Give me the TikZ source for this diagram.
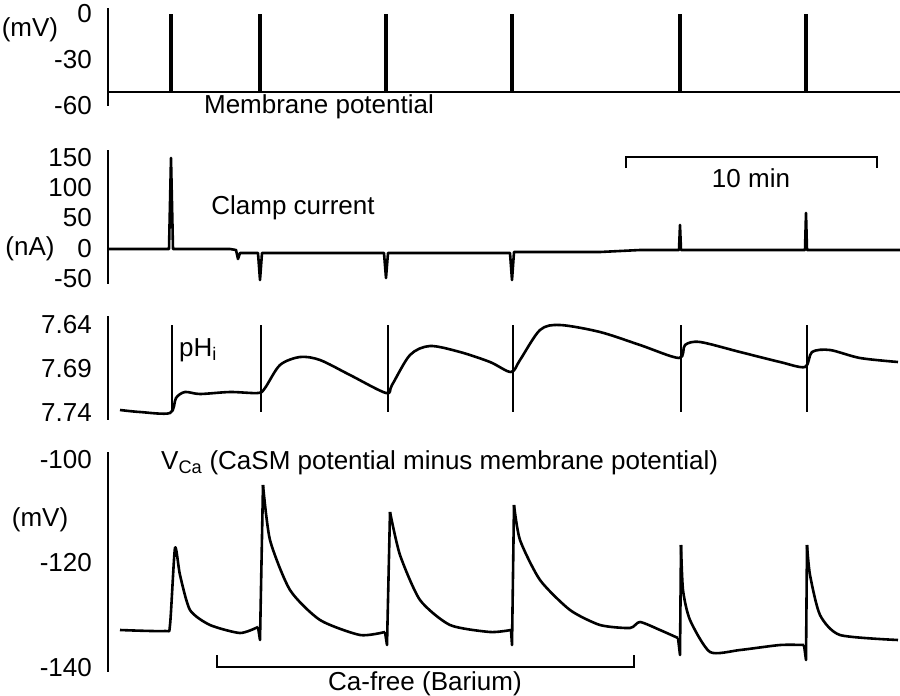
\documentclass[tikz,border=0pt]{standalone}
\usepackage{fontspec}
\setmainfont{Liberation Sans}
\tikzset{
    axis/.style={line width=2.4pt},
    trace/.style={line width=2.6pt,line join=round},
    lbl/.style={font=\fontsize{26}{30}\selectfont,inner sep=1pt},
    tick/.style={lbl,anchor=east}
}
\begin{document}
\begin{tikzpicture}[x=1pt,y=-1pt]
\useasboundingbox (0,0) rectangle (900,696);
% membrane potential
\draw[axis] (108,8) -- (108,106);
\node[tick] (m0) at (93,14) {0};
\node[tick] (m30) at (93,60) {-30};
\node[tick] (m60) at (93,106) {-60};
\node[lbl] (mv1) at (30,30) {(mV)};
\draw[trace] (108,92) -- (900,92);
\foreach \t in {171,260,386,512,680,806}
  \draw[line width=4pt] (\t,92) -- (\t,14);
\node[lbl] (mp) at (319,107) {Membrane potential};
% clamp current
\draw[axis] (108,150) -- (108,284);
\node[tick] (c150) at (93,158) {150};
\node[tick] (c100) at (93,188) {100};
\node[tick] (c50) at (93,218) {50};
\node[tick] (c0) at (93,249) {0};
\node[tick] (cm50) at (93,279) {-50};
\node[lbl] (na) at (30,249) {(nA)};
\node[lbl] (cc) at (293,208) {Clamp current};
\draw[trace] (108,249) -- (169,249) -- (171,158) -- (173,249) -- (230,249) -- (236,250) -- (238,259) -- (240,253) -- (258,253)
  -- (260,280) -- (262,253) -- (384,253) -- (386,278) -- (388,253) -- (510,253) -- (512,280) -- (514,252) -- (600,252)
  -- (640,250) -- (679,250) -- (680,225) -- (681,250) -- (805,250) -- (806,213) -- (807,250) -- (900,250);
\draw[line width=1.8pt] (626,168) -- (626,157) -- (877,157) -- (877,168);
\node[lbl] (tm) at (751,178) {10 min};
% pHi
\draw[axis] (108,316) -- (108,420);
\node[tick] (p64) at (93,325) {7.64};
\node[tick] (p69) at (93,369) {7.69};
\node[tick] (p74) at (93,413) {7.74};
\node[lbl] (ph) at (198,350) {pH\textsubscript{i}};
\foreach \t in {172,261,388,513,681,807}
  \draw[trace] (\t,325) -- (\t,412);
\draw[trace] plot[smooth,tension=0.5] coordinates {(120,410)(140,412)(170,413)(176,398)(185,392)(200,394)(230,392)(258,393)
  (265,388)(280,365)(300,357)(320,360)(350,375)(386,393)(392,385)(410,355)(430,346)(460,352)(490,362)(511,372)
  (520,360)(540,330)(560,325)(600,332)(640,345)(679,358)(685,345)(700,342)(740,352)(780,362)(805,367)
  (812,352)(830,350)(860,358)(898,362)};
% VCa
\draw[axis] (108,452) -- (108,672);
\node[tick] (v100) at (93,460) {-100};
\node[tick] (v120) at (93,563) {-120};
\node[tick] (v140) at (93,668) {-140};
\node[lbl] (mv2) at (40,520) {(mV)};
\node[lbl,anchor=west] (vca) at (160,463) {V\textsubscript{Ca} (CaSM potential minus membrane potential)};
\draw[trace] plot[smooth,tension=0.4] coordinates {(120,630)(165,631)(170,625)(175,548)(180,575)(190,610)(210,625)(240,633)(258,627)};
\draw[trace] (258,627) -- (260,640) -- (263,485);
\draw[trace] plot[smooth,tension=0.4] coordinates {(263,485)(270,540)(290,590)(320,620)(360,635)(385,632)};
\draw[trace] (385,632) -- (387,645) -- (390,512);
\draw[trace] plot[smooth,tension=0.4] coordinates {(390,512)(400,555)(420,600)(450,625)(490,632)(511,630)};
\draw[trace] (511,630) -- (512,645) -- (514,505);
\draw[trace] plot[smooth,tension=0.4] coordinates {(514,505)(520,540)(540,580)(570,610)(600,625)(630,628)(640,622)(660,630)(678,638)};
\draw[trace] (678,638) -- (680,655) -- (681,545);
\draw[trace] plot[smooth,tension=0.4] coordinates {(681,545)(683,590)(690,620)(710,652)(740,650)(780,645)(804,645)};
\draw[trace] (804,645) -- (806,660) -- (807,545);
\draw[trace] plot[smooth,tension=0.4] coordinates {(807,545)(810,575)(820,615)(840,635)(898,640)};
\draw[line width=1.8pt] (217,655) -- (217,667) -- (634,667) -- (634,655);
\node[lbl] (cf) at (425,684) {Ca-free (Barium)};
\end{tikzpicture}
\end{document}
